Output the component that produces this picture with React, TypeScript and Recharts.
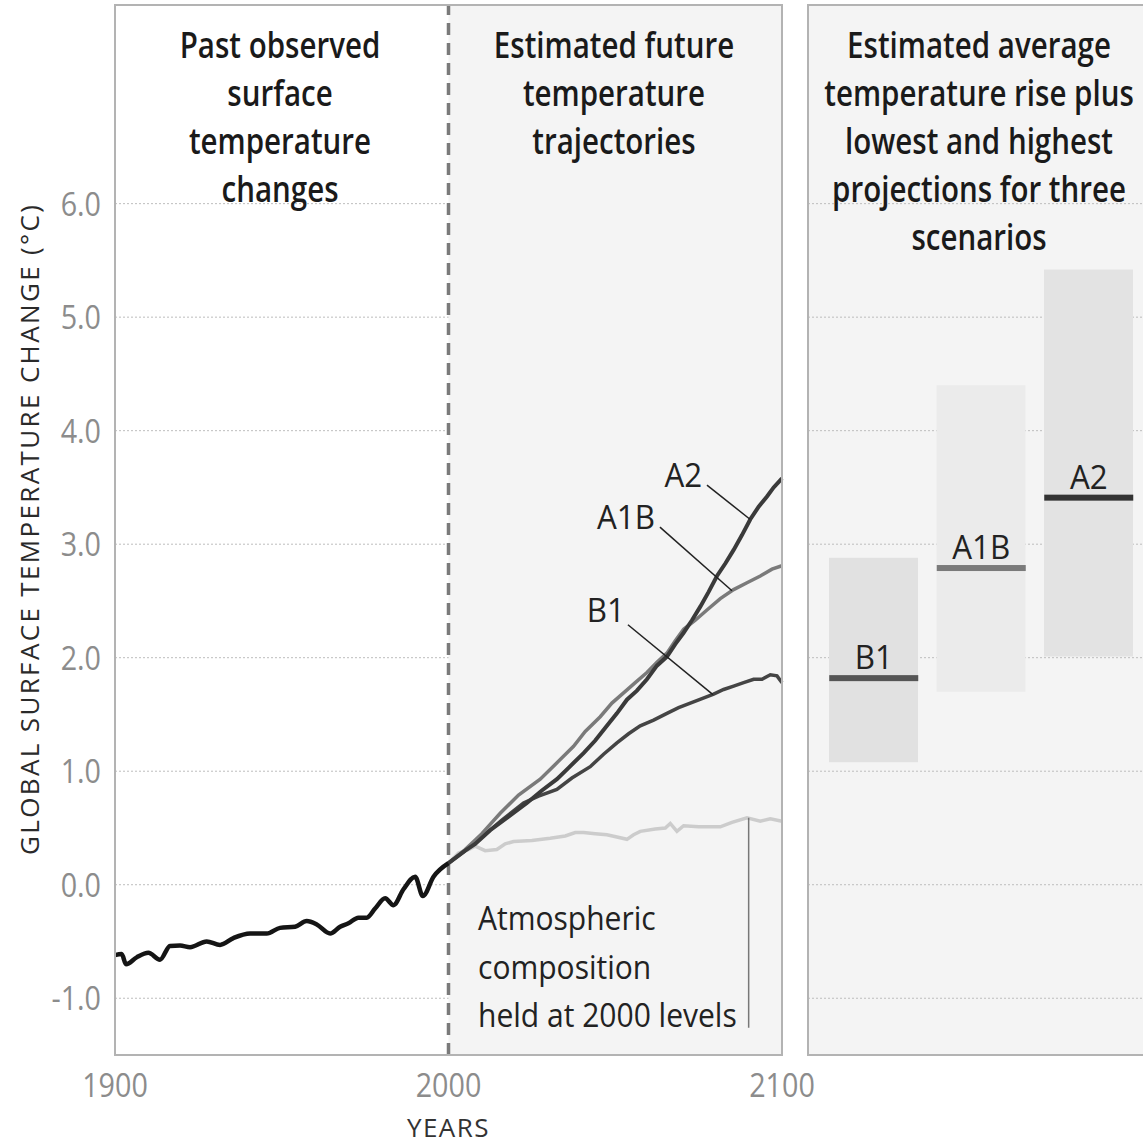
import React from 'react';
import {
  ComposedChart,
  Line,
  Bar,
  Scatter,
  Cell,
  XAxis,
  YAxis,
  CartesianGrid,
  ReferenceArea,
  ReferenceLine,
  ReferenceDot,
} from 'recharts';

// observed record 1900-2000
const pastYears = [1900, 1902, 1903.3, 1906.5, 1910, 1913.5, 1916.5, 1919.5, 1922.5, 1927.5, 1931.5, 1935.5, 1940.5, 1945.5, 1949.5, 1954, 1957.5, 1960.5, 1964.5, 1967.5, 1970, 1973, 1975.5, 1978, 1981, 1983.5, 1986.5, 1990, 1992.3, 1995.5, 2000];
const pastTemps = [-0.62, -0.61, -0.7, -0.64, -0.6, -0.66, -0.54, -0.535, -0.55, -0.5, -0.53, -0.47, -0.43, -0.43, -0.38, -0.37, -0.32, -0.35, -0.43, -0.37, -0.34, -0.29, -0.29, -0.21, -0.12, -0.18, -0.04, 0.07, -0.1, 0.07, 0.19];

// scenario trajectories 2000-2100
const a2Years = [2000, 2005, 2008, 2012.5, 2018, 2023.5, 2028, 2032.5, 2036, 2040.5, 2044, 2047.5, 2050.5, 2053.5, 2056.5, 2059.5, 2062.5, 2065.5, 2068, 2070.5, 2073, 2075.5, 2078, 2080.5, 2083, 2085.5, 2088, 2090.5, 2093, 2095.5, 2097.5, 2100];
const a2Temps = [0.19, 0.3, 0.36, 0.48, 0.6, 0.72, 0.83, 0.93, 1.03, 1.16, 1.27, 1.4, 1.51, 1.63, 1.71, 1.81, 1.93, 2.01, 2.12, 2.22, 2.33, 2.45, 2.58, 2.72, 2.83, 2.95, 3.08, 3.22, 3.33, 3.42, 3.5, 3.58];

const a1bYears = [2000, 2005, 2010, 2015.5, 2021, 2027.5, 2032, 2037.5, 2041, 2045.5, 2049, 2052.5, 2056, 2059.5, 2062.5, 2065.5, 2068, 2070.5, 2074, 2077.5, 2081.5, 2085.5, 2089.5, 2093.5, 2097, 2100];
const a1bTemps = [0.19, 0.31, 0.45, 0.63, 0.79, 0.93, 1.06, 1.22, 1.35, 1.48, 1.6, 1.69, 1.78, 1.87, 1.96, 2.04, 2.15, 2.25, 2.33, 2.42, 2.52, 2.6, 2.66, 2.72, 2.78, 2.81];

const b1Years = [2000, 2005, 2010, 2016, 2022.5, 2027, 2032.5, 2037, 2042.5, 2046.5, 2050.5, 2054, 2057.5, 2061.5, 2065.5, 2069, 2072.5, 2076, 2079.5, 2082.5, 2085.5, 2088.5, 2091.5, 2094, 2096.5, 2098.5, 2100];
const b1Temps = [0.19, 0.3, 0.42, 0.57, 0.72, 0.78, 0.84, 0.94, 1.04, 1.15, 1.25, 1.33, 1.4, 1.45, 1.51, 1.56, 1.6, 1.64, 1.68, 1.72, 1.75, 1.78, 1.81, 1.81, 1.85, 1.84, 1.78];

const constYears = [2000, 2003, 2006, 2008, 2011, 2014.5, 2017, 2019.5, 2025, 2030.5, 2035, 2038, 2040.5, 2044, 2047.5, 2050.5, 2053.5, 2055.5, 2057.5, 2062, 2065, 2066.5, 2068.5, 2070.5, 2075, 2081.5, 2085, 2089.5, 2093.5, 2096.5, 2100];
const constTemps = [0.19, 0.28, 0.31, 0.34, 0.3, 0.31, 0.36, 0.38, 0.39, 0.41, 0.43, 0.46, 0.46, 0.45, 0.44, 0.42, 0.4, 0.44, 0.47, 0.49, 0.5, 0.54, 0.47, 0.52, 0.51, 0.51, 0.55, 0.59, 0.56, 0.58, 0.56];

// 2100 ranges per scenario
const scenarios = ['B1', 'A1B', 'A2'];
const lowest = [1.08, 1.7, 2.01];
const highest = [2.88, 4.4, 5.42];
const averages = [1.82, 2.79, 3.41];
const boxColors = ['#e1e1e1', '#ebebeb', '#e3e3e3'];
const meanColors = ['#555555', '#7a7a7a', '#333333'];

const yTicks = [-1, 0, 1, 2, 3, 4, 5, 6];
const xTicks = [1900, 2000, 2100];

const FONT = "'Open Sans', 'Noto Sans', sans-serif";
const GRID = '#bdbdbd';

const toSeries = (years: number[], temps: number[]) =>
  years.map((year, i) => ({ year, temp: temps[i] }));

const rangeData = scenarios.map((name, i) => ({
  name,
  range: [lowest[i], highest[i]],
  mean: averages[i],
}));

// text squeezed horizontally around its anchor point (condensed look)
function Narrow({ x, y, anchor = 'start', size, weight = 400, fill = '#222', sx = 0.9, dy, children }: any) {
  return (
    <g transform={`translate(${x},${y}) scale(${sx},1)`}>
      <text x={0} y={0} dy={dy} textAnchor={anchor} fontSize={size} fontWeight={weight} fontFamily={FONT} fill={fill}>
        {children}
      </text>
    </g>
  );
}

const XTick = (props: any) => (
  <Narrow x={props.x} y={props.y} anchor="middle" size={33} fill="#8c8c8c" sx={0.87} dy="0.72em">
    {props.payload.value}
  </Narrow>
);

const YTick = (props: any) => (
  <Narrow x={props.x} y={props.y} anchor="end" size={33} fill="#8c8c8c" sx={0.87} dy="0.36em">
    {Number(props.payload.value).toFixed(1)}
  </Narrow>
);

const MeanMark = (props: any) => {
  const { cx, cy, index } = props;
  return (
    <g>
      <rect x={cx - 44.5} y={cy - 3} width={89} height={6} fill={meanColors[index]} />
      <Narrow x={cx} y={cy - 9} anchor="middle" size={33} sx={0.95}>
        {scenarios[index]}
      </Narrow>
    </g>
  );
};

const SeriesTag = (text: string) => (props: any) => {
  const vb = props.viewBox || {};
  return (
    <Narrow x={vb.cx ?? vb.x} y={vb.cy ?? vb.y} anchor="middle" size={33} sx={0.95} dy="0.36em">
      {text}
    </Narrow>
  );
};

function TitleBlock({ x, lines }: { x: number; lines: string[] }) {
  return (
    <g>
      {lines.map((l, i) => (
        <Narrow key={i} x={x} y={58 + i * 48} anchor="middle" size={36} weight={600} fill="#1a1a1a" sx={0.82}>
          {l}
        </Narrow>
      ))}
    </g>
  );
}

export default function App() {
  return (
    <div style={{ position: 'absolute', left: 0, top: 0, width: 1143, height: 1147, overflow: 'hidden', background: '#fff' }}>
      <div style={{ position: 'absolute', left: 0, top: 0 }}>
        <ComposedChart width={830} height={1147} margin={{ top: 5, right: 48, bottom: 0, left: 0 }}>
          <ReferenceArea x1={2000} x2={2100} y1={-1.5} y2={7.75} fill="#f4f4f4" fillOpacity={1} stroke="none" />
          <CartesianGrid vertical={false} stroke={GRID} strokeDasharray="2 2" />
          <XAxis
            type="number"
            dataKey="year"
            domain={[1900, 2100]}
            ticks={xTicks}
            height={92}
            axisLine={false}
            tickLine={false}
            tickMargin={12}
            tick={XTick}
            label={{ value: 'YEARS', position: 'insideBottom', offset: 10, fontSize: 26, fill: '#333', fontFamily: FONT, letterSpacing: 1.5 }}
          />
          <YAxis
            type="number"
            domain={[-1.5, 7.75]}
            ticks={yTicks}
            width={115}
            axisLine={false}
            tickLine={false}
            tickMargin={8}
            tick={YTick}
          />
          <ReferenceLine x={2000} stroke="#7a7a7a" strokeWidth={3.5} strokeDasharray="12 8" />
          <Line data={toSeries(constYears, constTemps)} dataKey="temp" stroke="#cccccc" strokeWidth={3.5} dot={false} isAnimationActive={false} />
          <Line data={toSeries(b1Years, b1Temps)} dataKey="temp" stroke="#444444" strokeWidth={3.5} dot={false} isAnimationActive={false} />
          <Line data={toSeries(a1bYears, a1bTemps)} dataKey="temp" stroke="#7a7a7a" strokeWidth={3.5} dot={false} isAnimationActive={false} />
          <Line data={toSeries(a2Years, a2Temps)} dataKey="temp" stroke="#3a3a3a" strokeWidth={4} dot={false} isAnimationActive={false} />
          <Line type="monotone" data={toSeries(pastYears, pastTemps)} dataKey="temp" stroke="#151515" strokeWidth={4.5} dot={false} isAnimationActive={false} />
          <ReferenceLine segment={[{ x: 2077.5, y: 3.52 }, { x: 2090.4, y: 3.22 }]} stroke="#222" strokeWidth={1.5} />
          <ReferenceLine segment={[{ x: 2063.4, y: 3.15 }, { x: 2085, y: 2.59 }]} stroke="#222" strokeWidth={1.5} />
          <ReferenceLine segment={[{ x: 2053.8, y: 2.29 }, { x: 2079.3, y: 1.675 }]} stroke="#222" strokeWidth={1.5} />
          <ReferenceLine segment={[{ x: 2090, y: 0.59 }, { x: 2090, y: -1.26 }]} stroke="#777" strokeWidth={1.5} />
          <ReferenceDot x={2070.4} y={3.61} r={0.01} fill="none" stroke="none" label={{ content: SeriesTag('A2'), position: 'center' }} />
          <ReferenceDot x={2053.2} y={3.235} r={0.01} fill="none" stroke="none" label={{ content: SeriesTag('A1B'), position: 'center' }} />
          <ReferenceDot x={2047.2} y={2.42} r={0.01} fill="none" stroke="none" label={{ content: SeriesTag('B1'), position: 'center' }} />
        </ComposedChart>
      </div>
      <div style={{ position: 'absolute', left: 808, top: 0 }}>
        <ComposedChart width={345} height={1147} data={rangeData} margin={{ top: 5, right: 0, bottom: 92, left: 0 }}>
          <CartesianGrid vertical={false} fill="#f4f4f4" stroke={GRID} strokeDasharray="2 2" />
          <XAxis dataKey="name" type="category" hide padding={{ left: 12, right: 10.5 }} />
          <YAxis type="number" domain={[-1.5, 7.75]} ticks={yTicks} hide />
          <Bar dataKey="range" barSize={89} isAnimationActive={false}>
            {rangeData.map((d, i) => (
              <Cell key={d.name} fill={boxColors[i]} />
            ))}
          </Bar>
          <Scatter dataKey="mean" shape={MeanMark} isAnimationActive={false} />
        </ComposedChart>
      </div>
      {/* panel frames */}
      <div style={{ position: 'absolute', left: 114, top: 4, width: 669, height: 1052, border: '2px solid #b3b3b3', boxSizing: 'border-box', pointerEvents: 'none' }} />
      <div style={{ position: 'absolute', left: 807, top: 4, width: 400, height: 1052, border: '2px solid #b3b3b3', boxSizing: 'border-box', pointerEvents: 'none' }} />
      <svg width={1143} height={1147} style={{ position: 'absolute', left: 0, top: 0, pointerEvents: 'none' }}>
        <TitleBlock x={280} lines={['Past observed', 'surface', 'temperature', 'changes']} />
        <TitleBlock x={614} lines={['Estimated future', 'temperature', 'trajectories']} />
        <TitleBlock x={979} lines={['Estimated average', 'temperature rise plus', 'lowest and highest', 'projections for three', 'scenarios']} />
        <text
          transform="translate(39,530) rotate(-90)"
          textAnchor="middle"
          fontSize={26}
          textLength={650}
          lengthAdjust="spacing"
          fill="#2a2a2a"
          fontFamily={FONT}
        >
          GLOBAL SURFACE TEMPERATURE CHANGE (°C)
        </text>
        <Narrow x={478} y={930} size={33} sx={0.91}>Atmospheric</Narrow>
        <Narrow x={478} y={979} size={33} sx={0.91}>composition</Narrow>
        <Narrow x={478} y={1027} size={33} sx={0.91}>held at 2000 levels</Narrow>
      </svg>
    </div>
  );
}
